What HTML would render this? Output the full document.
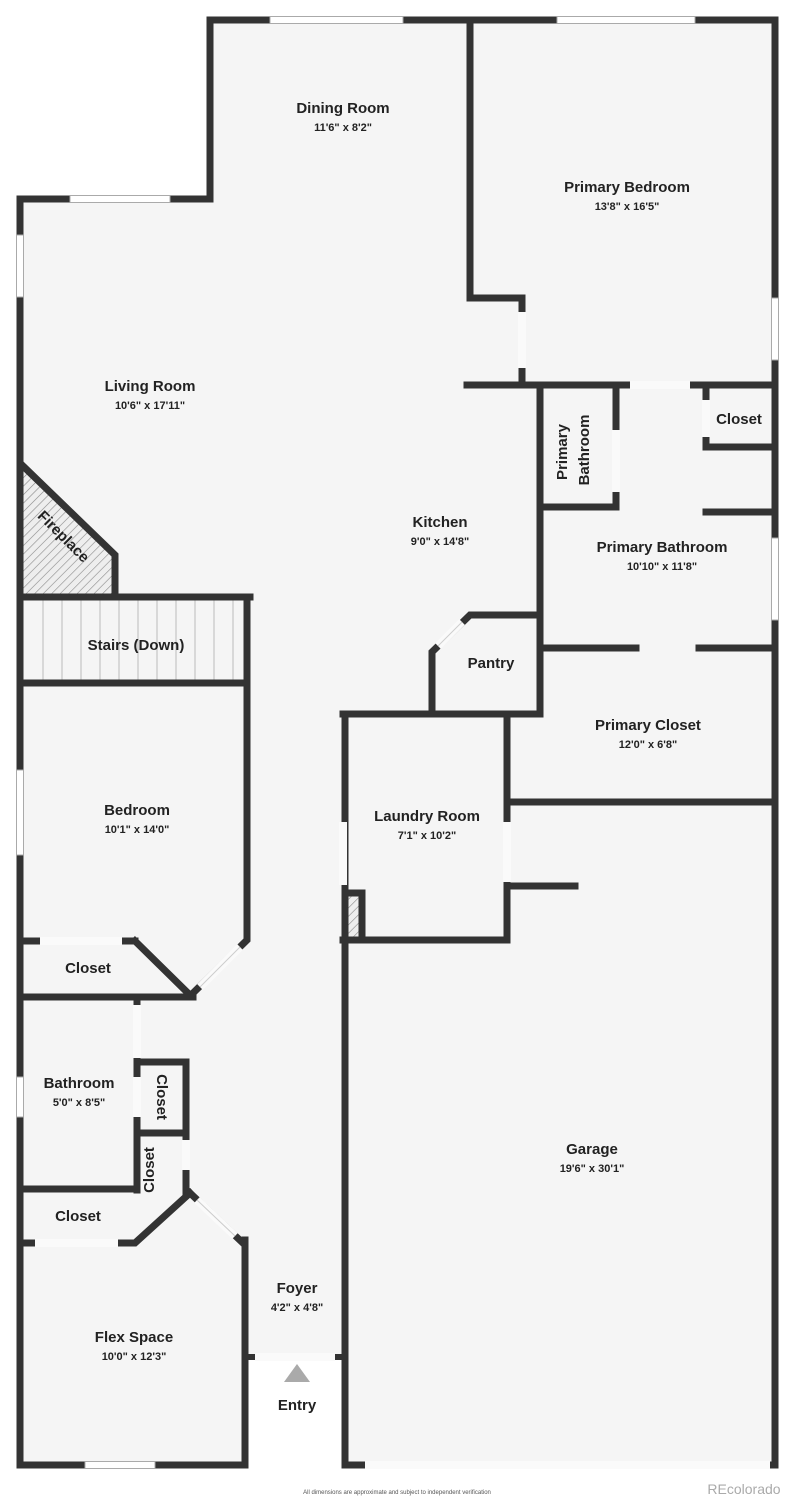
<!DOCTYPE html>
<html><head><meta charset="utf-8"><style>
html,body{margin:0;padding:0;background:#fff;}
svg{display:block;}
text{font-family:"Liberation Sans",sans-serif;fill:#222;text-anchor:middle;}
.n{font-size:15px;font-weight:bold;}
.d{font-size:11px;font-weight:bold;}
</style></head><body>
<svg width="795" height="1500" viewBox="0 0 795 1500" xmlns="http://www.w3.org/2000/svg">
<defs>
<pattern id="h" width="6" height="6" patternUnits="userSpaceOnUse" patternTransform="rotate(45)">
<rect width="6" height="6" fill="#eee"/><line x1="0" y1="0" x2="0" y2="6" stroke="#888" stroke-width="1.2"/></pattern>
</defs>
<polygon points="20,199 210,199 210,20 775,20 775,1465 345,1465 345,1357 245,1357 245,1465 20,1465" fill="#f5f5f5"/>
<!-- fireplace -->
<polygon points="22,465 115,555 115,597 22,597" fill="url(#h)"/>
<rect x="346" y="893" width="16" height="47" fill="url(#h)"/>
<!-- stair lines -->
<g stroke="#bbb" stroke-width="1">
<line x1="43" y1="600" x2="43" y2="680"/><line x1="62" y1="600" x2="62" y2="680"/><line x1="81" y1="600" x2="81" y2="680"/><line x1="100" y1="600" x2="100" y2="680"/><line x1="119" y1="600" x2="119" y2="680"/><line x1="138" y1="600" x2="138" y2="680"/><line x1="157" y1="600" x2="157" y2="680"/><line x1="176" y1="600" x2="176" y2="680"/><line x1="195" y1="600" x2="195" y2="680"/><line x1="214" y1="600" x2="214" y2="680"/><line x1="233" y1="600" x2="233" y2="680"/>
</g>
<g stroke="#333" stroke-width="7" fill="none" stroke-linecap="square" stroke-linejoin="miter">
<!-- outer -->
<polyline points="20,1465 20,199 210,199 210,20 775,20 775,1465 345,1465 345,714"/>
<polyline points="245,1240 245,1465 20,1465"/>
<line x1="250" y1="1357" x2="340" y2="1357" stroke-width="6"/>
<!-- primary bedroom -->
<polyline points="470,20 470,298 522,298 522,385"/>
<line x1="467" y1="385" x2="775" y2="385"/>
<line x1="540" y1="385" x2="540" y2="714"/>
<polyline points="616,385 616,507 540,507"/>
<polyline points="706,385 706,447 775,447"/>
<line x1="706" y1="512" x2="775" y2="512"/>
<line x1="540" y1="648" x2="636" y2="648"/>
<line x1="699" y1="648" x2="775" y2="648"/>
<polyline points="540,615 470,615 432,652 432,714"/>
<line x1="343" y1="714" x2="540" y2="714"/>
<line x1="507" y1="714" x2="507" y2="940"/>
<line x1="343" y1="940" x2="507" y2="940"/>
<line x1="362" y1="893" x2="362" y2="940"/>
<line x1="345" y1="893" x2="362" y2="893"/>
<line x1="507" y1="802" x2="775" y2="802"/>
<line x1="507" y1="886" x2="575" y2="886"/>
<!-- left side -->
<polyline points="22,465 115,555 115,597"/>
<line x1="20" y1="597" x2="250" y2="597"/>
<line x1="20" y1="683" x2="247" y2="683"/>
<polyline points="247,597 247,940 193,993"/>
<line x1="20" y1="941" x2="135" y2="941"/>
<polyline points="135,941 190,995"/>
<line x1="20" y1="997" x2="193" y2="997"/>
<line x1="137" y1="997" x2="137" y2="1190"/>
<polyline points="137,1062 186,1062 186,1192"/>
<line x1="137" y1="1133" x2="186" y2="1133"/>
<line x1="20" y1="1189" x2="137" y2="1189"/>
<polyline points="190,1193 135,1243 20,1243"/>
<polyline points="190,1193 245,1245 245,1260"/>
</g>
<!-- doors (gaps) -->
<g fill="#fafafa">
<rect x="518" y="312" width="8" height="56"/>
<rect x="630" y="381" width="60" height="8"/>
<rect x="612" y="430" width="8" height="62"/>
<rect x="702" y="400" width="8" height="37"/>
<rect x="339" y="822" width="8" height="63"/>
<rect x="503" y="822" width="8" height="60"/>
<rect x="133" y="1005" width="8" height="53"/>
<rect x="133" y="1077" width="8" height="40"/>
<rect x="182" y="1140" width="8" height="30"/>
<rect x="40" y="937" width="82" height="8"/>
<rect x="35" y="1239" width="83" height="8"/>
<rect x="255" y="1353" width="80" height="8"/>
<rect x="365" y="1461" width="405" height="8"/>
</g>
<g stroke="#fafafa" stroke-width="8">
<line x1="462" y1="622" x2="438" y2="646"/>
<line x1="240" y1="947" x2="200" y2="987"/>
<line x1="197" y1="1200" x2="235" y2="1236"/>
</g>
<g stroke="#ccc" stroke-width="1">
<line x1="462" y1="622" x2="438" y2="646"/>
<line x1="240" y1="947" x2="200" y2="987"/>
<line x1="197" y1="1200" x2="235" y2="1236"/>
</g>
<!-- windows -->
<g fill="#fff" stroke="#aaa" stroke-width="1">
<rect x="270" y="16.5" width="133" height="7"/>
<rect x="557" y="16.5" width="138" height="7"/>
<rect x="70" y="195.5" width="100" height="7"/>
<rect x="16.5" y="235" width="7" height="62"/>
<rect x="771.5" y="298" width="7" height="62"/>
<rect x="771.5" y="538" width="7" height="82"/>
<rect x="16.5" y="770" width="7" height="85"/>
<rect x="16.5" y="1077" width="7" height="40"/>
<rect x="85" y="1461.5" width="70" height="7"/>
</g>
<polygon points="297,1364 310,1382 284,1382" fill="#aaa"/>
<!-- labels -->
<text class="n" x="343" y="113">Dining Room</text><text class="d" x="343" y="131">11'6" x 8'2"</text>
<text class="n" x="627" y="192">Primary Bedroom</text><text class="d" x="627" y="210">13'8" x 16'5"</text>
<text class="n" x="150" y="391">Living Room</text><text class="d" x="150" y="409">10'6" x 17'11"</text>
<text class="n" x="440" y="527">Kitchen</text><text class="d" x="440" y="545">9'0" x 14'8"</text>
<text class="n" x="739" y="424">Closet</text>
<text class="n" x="662" y="552">Primary Bathroom</text><text class="d" x="662" y="570">10'10" x 11'8"</text>
<text class="n" transform="translate(567,452) rotate(-90)">Primary</text>
<text class="n" transform="translate(589,450) rotate(-90)">Bathroom</text>
<text class="n" x="491" y="668">Pantry</text>
<text class="n" x="648" y="730">Primary Closet</text><text class="d" x="648" y="748">12'0" x 6'8"</text>
<text class="n" x="427" y="821">Laundry Room</text><text class="d" x="427" y="839">7'1" x 10'2"</text>
<text class="n" transform="translate(60,540) rotate(45)">Fireplace</text>
<text class="n" x="136" y="650">Stairs (Down)</text>
<text class="n" x="137" y="815">Bedroom</text><text class="d" x="137" y="833">10'1" x 14'0"</text>
<text class="n" x="88" y="973">Closet</text>
<text class="n" x="79" y="1088">Bathroom</text><text class="d" x="79" y="1106">5'0" x 8'5"</text>
<text class="n" transform="translate(157,1097) rotate(90)">Closet</text>
<text class="n" transform="translate(154,1170) rotate(-90)">Closet</text>
<text class="n" x="78" y="1221">Closet</text>
<text class="n" x="134" y="1342">Flex Space</text><text class="d" x="134" y="1360">10'0" x 12'3"</text>
<text class="n" x="297" y="1293">Foyer</text><text class="d" x="297" y="1311">4'2" x 4'8"</text>
<text class="n" x="297" y="1410">Entry</text>
<text class="n" x="592" y="1154">Garage</text><text class="d" x="592" y="1172">19'6" x 30'1"</text>
<text x="397" y="1494" style="font-size:6px;fill:#555">All dimensions are approximate and subject to independent verification</text>
<text x="744" y="1494" style="font-size:14px;fill:#aaa">REcolorado</text>
</svg>
</body></html>
